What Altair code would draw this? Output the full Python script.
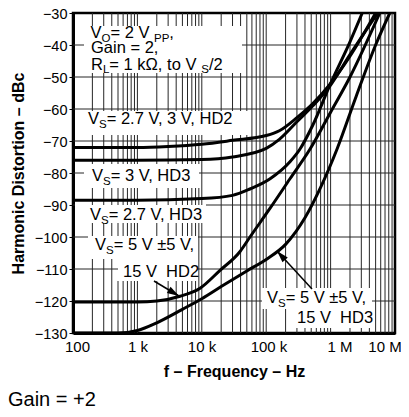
import math
import altair as alt
import pandas as pd

# ---------------- data ----------------
series_names = [
    "HD2, VS = 2.7 V, 3 V",
    "HD3, VS = 3 V",
    "HD3, VS = 2.7 V",
    "HD2, VS = 5 V, ±5 V, 15 V",
    "HD3, VS = 5 V, ±5 V, 15 V",
]
freq_hd2_low = [100, 1000, 3000, 10000, 30000, 100000, 160000, 300000, 530000, 1e6, 2e6, 5.0e6]
dbc_hd2_low = [-72, -72, -71.7, -71, -69.8, -68.3, -66.8, -62.7, -58.3, -52, -43.5, -30]

freq_hd3_3v = [100, 1000, 10000, 30000, 100000, 160000, 300000, 530000, 1e6, 2e6, 5.4e6]
dbc_hd3_3v = [-76, -76, -75.8, -75, -72.3, -69.5, -64, -59, -52.5, -43, -30]

freq_hd3_27v = [100, 1000, 10000, 30000, 56000, 115000, 234000, 335000, 530000, 1e6, 2e6, 3.1e6]
dbc_hd3_27v = [-88.5, -88.5, -88, -87, -85, -81.8, -76.5, -72.5, -65, -52, -39, -30]

freq_hd2_5v = [100, 1000, 2000, 4600, 9400, 19000, 39000, 56000, 115000, 234000, 480000, 1e6, 2e6, 5.8e6]
dbc_hd2_5v = [-120.3, -120.3, -120, -118.5, -116, -110.5, -104.6, -100, -91, -81.8, -72.5, -61, -50, -30]

freq_hd3_5v = [100, 500, 1000, 2000, 5000, 10000, 20000, 50000, 100000, 200000, 400000, 700000, 1.26e6, 2.5e6, 5e6, 8.3e6]
dbc_hd3_5v = [-130, -130, -129.2, -126.8, -122.6, -119.3, -115.5, -110.6, -107, -102.3, -94, -84.5, -72.5, -56, -40, -30]

x_tick_values = [100, 1000, 10000, 100000, 1000000, 10000000]
x_tick_labels = ["100", "1 k", "10 k", "100 k", "1 M", "10 M"]
y_tick_values = [-130, -120, -110, -100, -90, -80, -70, -60, -50, -40, -30]

# ---------------- layout helpers ----------------
W, H = 322, 320
FMIN, FMAX = 100, 1e7
YMIN, YMAX = -130, -30
X0, Y0 = 73, 13  # page position of the plot origin


def to_f(px):
    return FMIN * 10 ** ((px - X0) / W * 5)


def to_db(py):
    return YMAX - (py - Y0) / H * (YMAX - YMIN)


def f_to_px(f):
    return X0 + W * math.log10(f / FMIN) / 5


def db_to_py(d):
    return Y0 + (YMAX - d) / (YMAX - YMIN) * H


# page-x centres at which the reference prints its frequency labels
x_label_centres = [77.5, 138, 202, 269, 340, 385]

# white label areas that hide the grid (page px: x1, y1, x2, y2)
boxes = [
    (84, 26, 242, 73),
    (75, 111, 248, 135),
    (84, 164, 199, 188),
    (75, 205, 206, 223),
    (88, 236, 198, 259),
    (118, 259, 198, 281),
    (262, 288, 372, 309),
    (292, 309, 372, 328),
]

NB = "\u00a0"
# annotation lines: (page x, page baseline, [(text, is_subscript)])
ann_lines = [
    (90.5, 38, [("V", 0), ("O", 1), (" = 2 V", 0), ("PP", 1), (",", 0)]),
    (91, 53, [("Gain = 2,", 0)]),
    (91, 69.5, [("R", 0), ("L", 1), (" = 1 kΩ, to V", 0), ("S", 1), ("/2", 0)]),
    (88, 124, [("V", 0), ("S", 1), (" = 2.7 V, 3 V, HD2", 0)]),
    (92, 181, [("V", 0), ("S", 1), (" = 3 V, HD3", 0)]),
    (90, 220, [("V", 0), ("S", 1), (" = 2.7 V, HD3", 0)]),
    (95, 250, [("V", 0), ("S", 1), (" = 5 V ±5 V,", 0)]),
    (123, 277, [("15 V" + NB + NB + "HD2", 0)]),
    (267, 303, [("V", 0), ("S", 1), (" = 5 V ±5 V,", 0)]),
    (297, 323, [("15 V" + NB + NB + "HD3", 0)]),
]

arrow_start = [(154, 281), (312, 289)]
arrow_tip = [(179, 296), (277, 251)]

FS_MAIN, FS_SUB, SUB_DROP = 16.5, 11.5, 3.5
ARIAL = {' ': .278, NB: .278, ',': .278, '.': .278, '/': .278, '=': .584, '±': .584,
         '1': .556, '2': .556, '3': .556, '5': .556, '7': .556,
         'D': .722, 'G': .778, 'H': .722, 'L': .556, 'O': .778, 'P': .667,
         'R': .722, 'S': .667, 'V': .667, 'a': .556, 'i': .222, 'k': .5,
         'n': .556, 'o': .556, 't': .278, 'Ω': .768}


def text_width(s, fs):
    return sum(ARIAL.get(c, .556) for c in s) * fs


def subtract(lo, hi, holes):
    segs = [(lo, hi)]
    for a, b in sorted(holes):
        out = []
        for s, e in segs:
            if b <= s or a >= e:
                out.append((s, e))
            else:
                if a > s:
                    out.append((s, a))
                if b < e:
                    out.append((b, e))
        segs = out
    return segs


# ---------------- tables ----------------
curve_rows = []
for name, fs_, ds_ in zip(series_names,
                          [freq_hd2_low, freq_hd3_3v, freq_hd3_27v, freq_hd2_5v, freq_hd3_5v],
                          [dbc_hd2_low, dbc_hd3_3v, dbc_hd3_27v, dbc_hd2_5v, dbc_hd3_5v]):
    for i, (f, d) in enumerate(zip(fs_, ds_)):
        curve_rows.append({"series": name, "f": f, "db": d, "order": i})
curves = pd.DataFrame(curve_rows)

seg_rows = []
for x, y, segs in ann_lines:
    cx = x
    for txt, sub in segs:
        fs = FS_SUB if sub else FS_MAIN
        yy = y + (SUB_DROP if sub else 0)
        seg_rows.append({"f": to_f(cx), "db": to_db(yy), "txt": txt, "fs": fs})
        cx += text_width(txt, fs)
seg_df = pd.DataFrame(seg_rows)

arrow_rows = []
for (sx, sy), (tx, ty) in zip(arrow_start, arrow_tip):
    ang = math.degrees(math.atan2(tx - sx, -(ty - sy))) % 360
    arrow_rows.append({"f": to_f(sx), "db": to_db(sy), "f2": to_f(tx), "db2": to_db(ty),
                       "ang": ang})
arrow_df = pd.DataFrame(arrow_rows)

xlab_df = pd.DataFrame({"f": [to_f(c) for c in x_label_centres], "lab": x_tick_labels})

# grid (log decades with minor lines, every 10 dBc), interrupted behind the labels
grid_f = []
for dec in [100, 1000, 10000, 100000, 1000000]:
    for m in range(2, 10):
        grid_f.append(dec * m)
grid_f += x_tick_values[1:-1]
grid_db = y_tick_values[1:-1]

vrows = []
for f in grid_f:
    px = f_to_px(f)
    holes = [(b, d) for a, b, c, d in boxes if a <= px <= c]
    for s, e in subtract(Y0, Y0 + H, holes):
        vrows.append({"f": f, "gd1": to_db(s), "gd2": to_db(e)})
vgrid_df = pd.DataFrame(vrows)

hrows = []
for d in grid_db:
    py = db_to_py(d)
    holes = [(a, c) for a, b, c, dd in boxes if b <= py <= dd]
    for s, e in subtract(X0, X0 + W, holes):
        hrows.append({"db": d, "gf1": to_f(s), "gf2": to_f(e)})
hgrid_df = pd.DataFrame(hrows)

# ---------------- scales / axes ----------------
FONT = "Liberation Sans"

xs = alt.Scale(type="log", domain=[FMIN, FMAX], nice=False)
ys = alt.Scale(domain=[YMIN, YMAX], nice=False, zero=False)

xaxis = alt.Axis(values=x_tick_values, labels=False, grid=False, ticks=False,
                 title="f – Frequency – Hz", titleFontSize=16, titleFontWeight="bold",
                 titlePadding=30)
yaxis = alt.Axis(values=y_tick_values, grid=False, tickSize=4, labelPadding=2,
                 labelFontSize=14.5, labelOffset=1.5, labelFlush=False,
                 title="Harmonic Distortion – dBc",
                 titleFontSize=16, titleFontWeight="bold", titlePadding=8)

X = alt.X("f:Q", scale=xs, axis=xaxis)
Y = alt.Y("db:Q", scale=ys, axis=yaxis)

GRID = "#262626"
vgrid = alt.Chart(vgrid_df).mark_rule(color=GRID, strokeWidth=1).encode(
    x=X, y=alt.Y("gd1:Q", scale=ys, axis=yaxis), y2=alt.Y2("gd2"))
hgrid = alt.Chart(hgrid_df).mark_rule(color=GRID, strokeWidth=1).encode(
    y=Y, x=alt.X("gf1:Q", scale=xs, axis=xaxis), x2=alt.X2("gf2"))

lines = alt.Chart(curves).mark_line(
    color="black", strokeWidth=3, clip=True, interpolate="monotone").encode(
    x=X, y=Y, detail="series:N", order="order:Q")

arrow_lines = alt.Chart(arrow_df).mark_rule(color="black", strokeWidth=1.5).encode(
    x=X, y=Y, x2="f2:Q", y2="db2:Q")

arrow_heads = alt.Chart(arrow_df).mark_point(
    shape="M0,0L0.6,2L-0.6,2Z", filled=True, color="black", opacity=1, size=144,
    strokeWidth=0).encode(
    x=alt.X("f2:Q", scale=xs, axis=xaxis), y=alt.Y("db2:Q", scale=ys, axis=yaxis),
    angle=alt.Angle("ang:Q", scale=None))

texts = alt.Chart(seg_df).mark_text(
    align="left", baseline="alphabetic", font=FONT, color="black").encode(
    x=X, y=Y, text="txt:N", size=alt.Size("fs:Q", scale=None, legend=None))

xlabels = alt.Chart(xlab_df).mark_text(
    align="center", baseline="top", font=FONT, fontSize=15, color="black").encode(
    x=X, y=alt.value(H + 7), text="lab:N")

gain_df = pd.DataFrame({"t": ["Gain = +2"]})
gain = alt.Chart(gain_df).mark_text(
    align="left", baseline="alphabetic", font=FONT, fontSize=20, color="black").encode(
    x=alt.value(-65), y=alt.value(393), text="t:N")

chart = alt.layer(vgrid, hgrid, lines, arrow_lines, arrow_heads, texts,
                  xlabels, gain).properties(
    width=W, height=H,
    padding={"left": 65, "top": 5, "right": 6, "bottom": 76},
    autosize=alt.AutoSizeParams(type="none"),
).configure(font=FONT).configure_view(
    stroke="black", strokeWidth=2.5
).configure_axis(
    domainColor="black", domainWidth=3,
    labelFont=FONT, titleFont=FONT, labelColor="black", titleColor="black",
    tickColor="black",
)

chart.save("out.html", embed_options={"renderer": "svg", "actions": False})
